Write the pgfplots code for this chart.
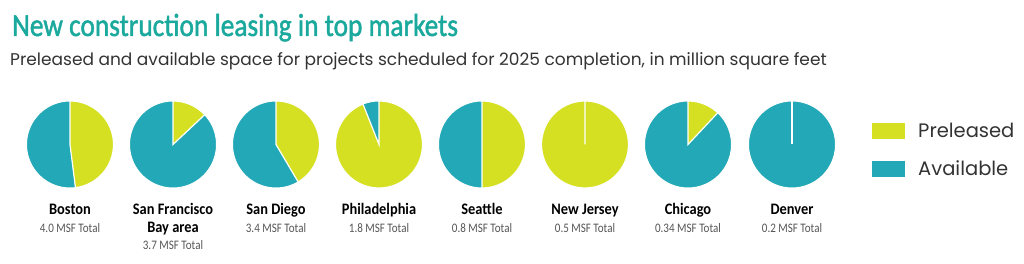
\documentclass[border=0pt]{standalone}
\usepackage{pgfplots}
\pgfplotsset{compat=1.18}
\usepackage{fontspec}
\setmainfont{Carlito}
\newfontfamily\titlefont[FakeBold=1.6]{Carlito}
\newfontfamily\subfont{Poppins}
\definecolor{prel}{HTML}{D5E023}
\definecolor{avail}{HTML}{22A8B6}
\definecolor{titlec}{HTML}{1AA99C}
\definecolor{txt}{HTML}{333333}
\definecolor{gtxt}{HTML}{555555}
\newcommand{\piebase}[1]{%
  \addplot[fill=avail, draw=white, line width=1pt, domain=0:360, samples=120, forget plot]
    ({#1+43.5*cos(x)},{119.5+43.5*sin(x)}) -- cycle;}
\newcommand{\pieslice}[2]{%
  \addplot[fill=prel, draw=white, line width=1.2pt, domain={90-360*#2}:90, samples=90, forget plot]
    ({#1+43.5*cos(x)},{119.5+43.5*sin(x)}) -- (axis cs:#1,119.5) -- cycle;}
\newcommand{\cname}[1]{\scalebox{0.9}[1]{#1}}
\newcommand{\ctot}[1]{\scalebox{0.85}[1]{#1 MSF Total}}
\newcommand{\city}[3]{%
  \node[anchor=base, inner sep=0pt, font=\bfseries\fontsize{16}{18}\selectfont, text=black] at (axis cs:#1,49) {\cname{#2}};
  \node[anchor=base, inner sep=0pt, font=\fontsize{13}{15}\selectfont, text=gtxt] at (axis cs:#1,31) {\ctot{#3}};}
\begin{document}
\begin{tikzpicture}
\path[use as bounding box] (0,0) rectangle (1024pt,264pt);
\begin{axis}[
  at={(0,0)}, anchor=south west,
  scale only axis, width=1024pt, height=264pt,
  xmin=0, xmax=1024, ymin=0, ymax=264,
  hide axis, clip=false,
  legend style={at={(axis cs:872,114)}, anchor=west, draw=none, fill=none,
    font=\subfont\fontsize{19.5}{22}\selectfont\color{txt}, inner sep=0pt,
    row sep=18pt, /tikz/every odd column/.append style={column sep=11pt}},
  legend cell align=left,
  legend image code/.code={\fill[#1] (0pt,-8pt) rectangle (33pt,8pt);},
]
% Boston 48% preleased
\piebase{70}\pieslice{70}{0.48}
% San Francisco Bay area
\piebase{173}\pieslice{173}{0.13}
% San Diego
\piebase{276}\pieslice{276}{0.415}
% Philadelphia
\piebase{379}\pieslice{379}{0.94}
% Seattle
\piebase{482}\pieslice{482}{0.50}
% New Jersey
\piebase{585}\pieslice{585}{1.00}
% Chicago
\piebase{688}\pieslice{688}{0.12}
% Denver 0% preleased
\piebase{792}
\addplot[white, line width=1.2pt, forget plot] coordinates {(792,119.5) (792,163)};

\addlegendimage{fill=prel, draw=none}
\addlegendentry{Preleased}
\addlegendimage{fill=avail, draw=none}
\addlegendentry{Available}

\node[anchor=base west, inner sep=0pt, font=\titlefont\fontsize{32}{36}\selectfont, text=titlec] at (axis cs:12,228) {\scalebox{0.855}[1]{New construction leasing in top markets}};
\node[anchor=base west, inner sep=0pt, font=\subfont\fontsize{17}{20}\selectfont, text=txt] at (axis cs:10,198) {Preleased and available space for projects scheduled for 2025 completion, in million square feet};

\city{70}{Boston}{4.0}
\city{276}{San Diego}{3.4}
\city{379}{Philadelphia}{1.8}
\city{482}{Seattle}{0.8}
\city{585}{New Jersey}{0.5}
\city{688}{Chicago}{0.34}
\city{792}{Denver}{0.2}
\node[anchor=base, inner sep=0pt, font=\bfseries\fontsize{16}{18}\selectfont, text=black] at (axis cs:173,49) {\cname{San Francisco}};
\node[anchor=base, inner sep=0pt, font=\bfseries\fontsize{16}{18}\selectfont, text=black] at (axis cs:173,31.4) {\cname{Bay area}};
\node[anchor=base, inner sep=0pt, font=\fontsize{13}{15}\selectfont, text=gtxt] at (axis cs:173,14) {\ctot{3.7}};
\end{axis}
\end{tikzpicture}
\end{document}
